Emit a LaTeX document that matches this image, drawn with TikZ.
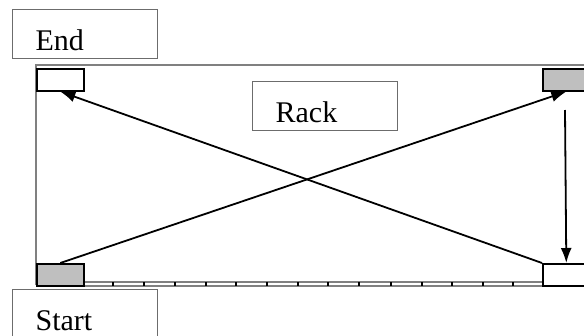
\documentclass[tikz,border=0pt]{standalone}
\usepackage{fontspec}
\setmainfont{Liberation Serif}
\usetikzlibrary{arrows.meta}

\begin{document}
\begin{tikzpicture}[x=1pt, y=-1pt,
    labelbox/.style={draw=gray!85!black, line width=1.2pt, rectangle, anchor=north west,
        minimum width=145pt, minimum height=49pt, inner xsep=23pt, text width=99pt,
        align=left, text height=32pt, text depth=0pt, font=\fontsize{30}{36}\selectfont},
    slot/.style={draw=black, line width=1.6pt, rectangle, anchor=north west,
        minimum width=47pt, minimum height=22pt, inner sep=0pt},
    move/.style={line width=1.8pt, -{Latex[length=15pt, width=11pt]}}]
        \useasboundingbox (0,0) rectangle (584,335);
        % rack frame and rail
        \draw[gray, line width=1.5pt] (36,285) -- (36,65) -- (600,65);
        \draw[gray, line width=1.1pt, fill=white] (83,282) rectangle (600,286);
        \foreach \x in {113,144,175,206,236,267,298,328,359,391,422,452,483,513,545,567} {
            \draw[black, line width=1.2pt] (\x,282) -- (\x,286);
        }
        % slots
        \node[slot] (tlslot) at (36,68) {};
        \node[slot, fill=gray!50] (blslot) at (36,263) {};
        \node[slot, fill=gray!50] (trslot) at (542,68) {};
        \node[slot, fill=white] (brslot) at (542,263) {};
        % labels
        \node[labelbox] (endbox) at (12,9) {End};
        \node[labelbox] (rackbox) at (252,81) {Rack};
        \node[labelbox] (startbox) at (12,289) {Start};
        % moves
        \coordinate (downtop) at (565,110);
        \draw[move] (blslot.north) -- (trslot.south);
        \draw[move] (brslot.north west) -- (tlslot.south);
        \draw[move] (downtop) -- (brslot.north);
\end{tikzpicture}
\end{document}
